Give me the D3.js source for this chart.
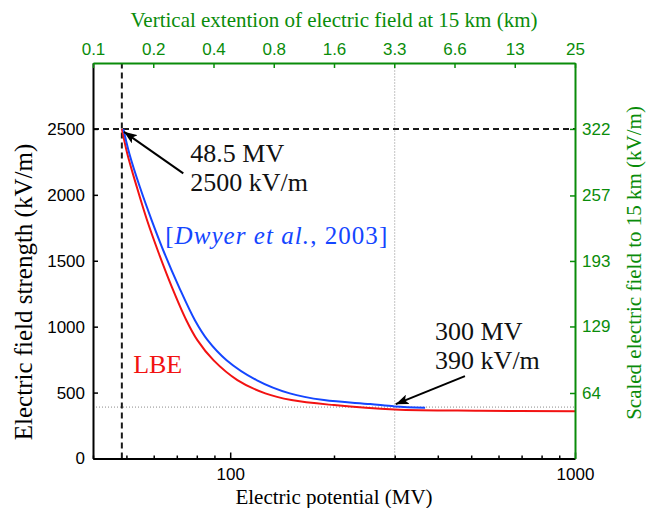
<!DOCTYPE html>
<html>
<head>
<meta charset="utf-8">
<script src="https://cdn.jsdelivr.net/npm/d3@7"></script>
<style>
  body { margin: 0; background: #fff; }
  svg { display: block; }
</style>
</head>
<body>
<svg id="chart" width="647" height="508"></svg>
<script>
// ---------------- data ----------------
const potentialLBE = [48.5, 50.3, 53.6, 57.4, 62.1, 67.7, 74.6, 80.3, 89.4, 104.9, 126.4, 150.5, 200, 300, 530, 1000];
const fieldLBE     = [2500, 2312, 2059, 1807, 1555, 1302, 1049, 898, 746, 595, 494, 443, 405, 372, 362, 358];

const potentialDwyer = [49.0, 51.0, 54.7, 59.2, 64.5, 71.0, 79.0, 86.0, 97.6, 119.2, 148.9, 187.0, 254.6, 300, 367.5];
const fieldDwyer     = [2500, 2312, 2059, 1807, 1555, 1302, 1049, 898, 746, 595, 494, 443, 413, 395, 385];

const bottomMajorTicks = [100, 1000];
const bottomMinorTicks = [40, 50, 60, 70, 80, 90, 200, 300, 400, 500, 600, 700, 800, 900];
const leftTicks = [0, 500, 1000, 1500, 2000, 2500];
const rightTickValues = [64, 129, 193, 257, 322];
const rightTickLabels = ["64", "129", "193", "257", "322"];
const topTickLabels = ["0.1", "0.2", "0.4", "0.8", "1.6", "3.3", "6.6", "13", "25"];

const thresholdPotential = 48.5, thresholdField = 2500;
const refPotential = 300, refField = 390;
const annotThreshold = ["48.5 MV", "2500 kV/m"];
const annotRef = ["300 MV", "390 kV/m"];
const labelDwyer = ["[", "Dwyer et al.", ", 2003]"];
const labelLBE = "LBE";

// ---------------- layout ----------------
const L = 93, R = 575, T = 63, B = 458.5;
const GREEN = "#0a8c0a", RED = "#f21212", BLUE = "#1446ff";

const svg = d3.select("#chart");
const x = d3.scaleLog().domain([40, 1000]).range([L, R]);
const y = d3.scaleLinear().domain([0, 3000]).range([B, T]);
const yRight = d3.scaleLinear().domain([0, 3000 * 322 / 2500]).range([B, T]);
const xTop = d3.scalePoint().domain(topTickLabels).range([L, R]);

const defs = svg.append("defs");
defs.append("marker").attr("id", "ah")
  .attr("markerUnits", "userSpaceOnUse")
  .attr("markerWidth", 14).attr("markerHeight", 10)
  .attr("refX", 13).attr("refY", 5).attr("orient", "auto")
  .append("path").attr("d", "M0,0 L13,5 L0,10 L3,5 Z").attr("fill", "#000");

// reference lines (dotted)
svg.append("line")
  .attr("x1", x(refPotential)).attr("x2", x(refPotential))
  .attr("y1", y(0)).attr("y2", y(3000))
  .attr("stroke", "#8a8a8a").attr("stroke-width", 1).attr("stroke-dasharray", "1,2");
svg.append("line")
  .attr("x1", x(40)).attr("x2", x(1000))
  .attr("y1", y(refField)).attr("y2", y(refField))
  .attr("stroke", "#8a8a8a").attr("stroke-width", 1).attr("stroke-dasharray", "1,2");

// threshold lines (dashed)
svg.append("line")
  .attr("x1", x(thresholdPotential)).attr("x2", x(thresholdPotential))
  .attr("y1", y(0)).attr("y2", y(3000))
  .attr("stroke", "#1a1a1a").attr("stroke-width", 2).attr("stroke-dasharray", "6,4");
svg.append("line")
  .attr("x1", x(40)).attr("x2", x(1000))
  .attr("y1", y(thresholdField)).attr("y2", y(thresholdField))
  .attr("stroke", "#1a1a1a").attr("stroke-width", 2).attr("stroke-dasharray", "6,4");

// curves
const line = d3.line().x(d => x(d[0])).y(d => y(d[1])).curve(d3.curveCatmullRom.alpha(0.5));
svg.append("path").datum(potentialLBE.map((v, i) => [v, fieldLBE[i]]))
  .attr("d", line).attr("fill", "none").attr("stroke", RED).attr("stroke-width", 2);
svg.append("path").datum(potentialDwyer.map((v, i) => [v, fieldDwyer[i]]))
  .attr("d", line).attr("fill", "none").attr("stroke", BLUE).attr("stroke-width", 2);

// arrows
svg.append("line")
  .attr("x1", x(73.1)).attr("y1", y(2163))
  .attr("x2", x(49.2)).attr("y2", y(2478))
  .attr("stroke", "#000").attr("stroke-width", 2).attr("marker-end", "url(#ah)");
svg.append("line")
  .attr("x1", x(479.6)).attr("y1", y(625))
  .attr("x2", x(302)).attr("y2", y(412))
  .attr("stroke", "#000").attr("stroke-width", 2).attr("marker-end", "url(#ah)");

// annotation texts
const serifT = "'Liberation Serif', 'Times New Roman', serif";
function multi(lines, xv, yv, color) {
  const t = svg.append("text").attr("x", x(xv)).attr("y", y(yv))
    .attr("font-family", serifT).attr("font-size", 26).attr("fill", color);
  lines.forEach((s, i) => t.append("tspan").attr("x", x(xv)).attr("dy", i === 0 ? 0 : 28.5).text(s));
}
multi(annotThreshold, 76.6, 2248, "#111");
multi(annotRef, 392.9, 898, "#111");

const td = svg.append("text").attr("x", x(64.8)).attr("y", y(1630))
  .attr("font-family", serifT).attr("font-size", 25).attr("fill", BLUE)
  .attr("textLength", 222).attr("lengthAdjust", "spacing");
td.append("tspan").text(labelDwyer[0]);
td.append("tspan").attr("font-style", "italic").text(labelDwyer[1]);
td.append("tspan").text(labelDwyer[2]);

svg.append("text").attr("x", x(52.3)).attr("y", y(645))
  .attr("font-family", serifT).attr("font-size", 26).attr("fill", RED).text(labelLBE);

// ---------------- axes ----------------
const sans = "'Liberation Sans', Arial, sans-serif";
function styleAxis(g, color) {
  g.select(".domain").attr("stroke", color).attr("stroke-width", 2);
  g.selectAll(".tick line").attr("stroke", color).attr("stroke-width", 1.5);
  g.selectAll(".tick text").attr("fill", color).attr("font-family", sans).attr("font-size", 17);
}

// bottom minor ticks
const gMinor = svg.append("g").attr("transform", `translate(0,${B})`)
  .call(d3.axisBottom(x).tickValues(bottomMinorTicks).tickSize(-3).tickSizeOuter(0).tickFormat(""));
styleAxis(gMinor, "#000");
gMinor.select(".domain").remove();

const gBottom = svg.append("g").attr("transform", `translate(0,${B})`)
  .call(d3.axisBottom(x).tickValues(bottomMajorTicks).tickSize(-6).tickSizeOuter(0)
    .tickFormat(d3.format("d")).tickPadding(9));
styleAxis(gBottom, "#000");

const gLeft = svg.append("g").attr("transform", `translate(${L},0)`)
  .call(d3.axisLeft(y).tickValues(leftTicks).tickSize(-5).tickSizeOuter(0)
    .tickFormat(d3.format("d")).tickPadding(8));
styleAxis(gLeft, "#000");

const gTop = svg.append("g").attr("transform", `translate(0,${T})`)
  .call(d3.axisTop(xTop).tickSize(-5).tickSizeOuter(0).tickPadding(8));
styleAxis(gTop, GREEN);

const gRight = svg.append("g").attr("transform", `translate(${R},0)`)
  .call(d3.axisRight(yRight).tickValues(rightTickValues).tickSize(-5).tickSizeOuter(0)
    .tickPadding(7).tickFormat((d, i) => rightTickLabels[i]));
styleAxis(gRight, GREEN);

// axis titles
svg.append("text").attr("x", (L + R) / 2).attr("y", 504)
  .attr("text-anchor", "middle").attr("font-family", serifT).attr("font-size", 21)
  .attr("fill", "#000").text("Electric potential (MV)");

svg.append("text").attr("x", (L + R) / 2).attr("y", 27)
  .attr("text-anchor", "middle").attr("font-family", serifT).attr("font-size", 21)
  .attr("fill", GREEN).text("Vertical extention of electric field at 15 km (km)");

svg.append("text").attr("transform", "translate(32,292) rotate(-90)")
  .attr("text-anchor", "middle").attr("font-family", serifT).attr("font-size", 25)
  .attr("fill", "#000").text("Electric field strength (kV/m)");

svg.append("text").attr("transform", "translate(641,263) rotate(-90)")
  .attr("text-anchor", "middle").attr("font-family", serifT).attr("font-size", 21)
  .attr("fill", GREEN).text("Scaled electric field to 15 km (kV/m)");
</script>
</body>
</html>
